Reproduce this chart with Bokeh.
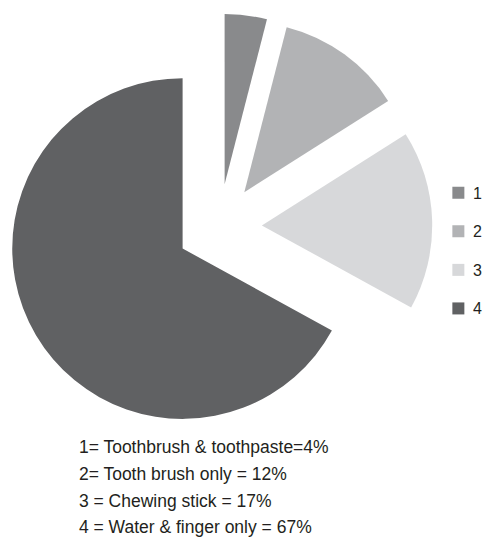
import math
from bokeh.plotting import figure
from bokeh.models import Range1d, ColumnDataSource
from bokeh.core.properties import value
from bokeh.embed import file_html
from bokeh.resources import INLINE

# ---- data ----
categories = ["1", "2", "3", "4"]
percentages = [4, 12, 17, 67]
descriptions = [
    "1= Toothbrush & toothpaste=4%",
    "2= Tooth brush only = 12%",
    "3 = Chewing stick = 17%",
    "4 = Water & finger only = 67%",
]
colors = ["#898a8c", "#b2b3b5", "#d7d8da", "#606163"]

# ---- layout (reference pixel coordinates, y flipped: data y = H - img_y) ----
W, H = 500, 553
cx, cy = 226, H - 233
radius = 176
explode = 44

total = float(sum(percentages))
xs, ys, starts, ends = [], [], [], []
cum = 0.0
for v in percentages:
    t1 = cum / total * 360.0
    cum += v
    t2 = cum / total * 360.0
    tm = math.radians((t1 + t2) / 2.0)
    xs.append(cx + explode * math.sin(tm))
    ys.append(cy + explode * math.cos(tm))
    starts.append(math.radians(90.0 - t1))
    ends.append(math.radians(90.0 - t2))

src = ColumnDataSource(dict(x=xs, y=ys, start=starts, end=ends, color=colors,
                            cat=categories, pct=percentages))

p = figure(width=484, height=537, output_backend="svg", toolbar_location=None,
           x_range=Range1d(0, W), y_range=Range1d(0, H), min_border=0)
p.axis.visible = False
p.grid.visible = False
p.outline_line_color = None
p.background_fill_color = "white"
p.border_fill_color = "white"

p.wedge(x="x", y="y", radius=radius, start_angle="start", end_angle="end",
        direction="clock", fill_color="color", line_color=None, source=src)

# legend on the right
leg_y = [H - (198 + 39.7 * i) for i in range(len(categories))]
leg_src = ColumnDataSource(dict(x=[473] * 4, y=leg_y, color=colors,
                                lx=[488] * 4, label=categories))
p.scatter(x="x", y="y", marker="square", size=12, fill_color="color",
          line_color=None, source=leg_src)
p.text(x="lx", y="y", text="label", text_baseline="middle", text_align="left",
       text_font=value("Liberation Sans"), text_font_size="16px",
       text_color="#231f20", source=leg_src)

# description lines below
desc_y = [H - (460 + 27.5 * i) for i in range(len(descriptions))]
desc_src = ColumnDataSource(dict(x=[81] * 4, y=desc_y, text=descriptions))
p.text(x="x", y="y", text="text", text_baseline="alphabetic", text_align="left",
       text_font=value("Liberation Sans"), text_font_size="17.5px",
       text_color="#231f20", source=desc_src)

open("out.html", "w").write(file_html(p, INLINE))
